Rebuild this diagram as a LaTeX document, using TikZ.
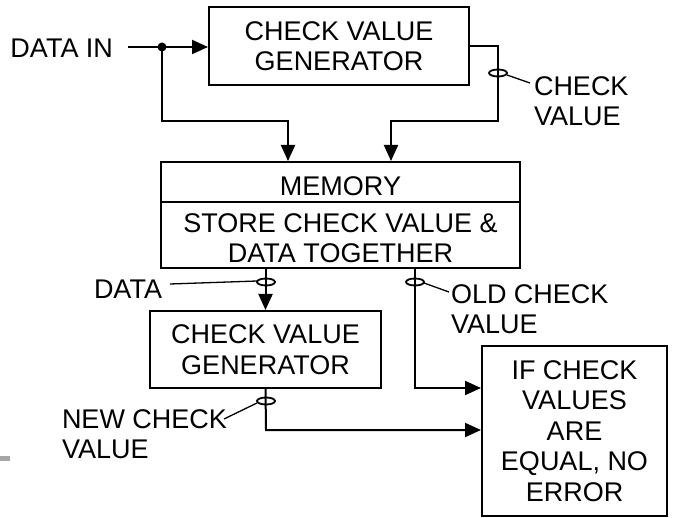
\documentclass[tikz,border=0pt]{standalone}
\usepackage{fontspec}
\setmainfont{Liberation Sans}
\usetikzlibrary{arrows.meta}
\begin{document}
\begin{tikzpicture}[x=1pt,y=-1pt,line width=2pt,
  txt/.style={inner sep=0pt,align=center,font=\fontsize{27}{30}\selectfont},
  box/.style={draw,inner sep=0pt,align=center,font=\fontsize{27}{30.5}\selectfont},
  arr/.style={-{Triangle[length=16pt,width=14pt]}},
  ring/.style={line width=1.8pt}]
\useasboundingbox (0,0) rectangle (677,518);
% boxes
\node[box,minimum width=260pt,minimum height=78pt] (cvg1) at (339,46) {CHECK VALUE\\GENERATOR};
\node[box,minimum width=359pt,minimum height=106pt] (mem) at (340.5,215) {};
\node[box,minimum width=231pt,minimum height=77pt] (cvg2) at (265.5,349.5) {CHECK VALUE\\GENERATOR};
\node[box,minimum width=185pt,minimum height=169pt] (cmp) at (574.5,431) {IF CHECK\\VALUES\\ARE\\EQUAL, NO\\ERROR};
\draw[line width=1.5pt] (mem.west |- 0,202) -- (mem.east |- 0,202);
\node[txt] (memt) at (340.5,186) {MEMORY};
\node[txt] (memd) at (340.5,238) {STORE CHECK VALUE \&\\DATA TOGETHER};
% labels
\node[txt,anchor=east] (datain) at (114,48) {DATA IN};
\node[txt,anchor=west,align=left] (cvlab) at (533,101) {CHECK\\VALUE};
\node[txt,anchor=east] (datalab) at (163,289) {DATA};
\node[txt,anchor=west,align=left] (oldlab) at (450,309) {OLD CHECK\\VALUE};
\node[txt,anchor=west,align=left] (newlab) at (61,434.5) {NEW CHECK\\VALUE};
% coordinates
\coordinate (in) at (128,47);
\coordinate (j) at (162,47);
\coordinate (b1) at (162,121);
\coordinate (b2) at (288,121);
\coordinate (r1) at (498,46);
\coordinate (r2) at (498,121);
\coordinate (r3) at (391,121);
\coordinate (o1) at (415,388);
\coordinate (n1) at (266,430);
% connectors
\draw (in) -- (j);
\draw[arr] (j) -- (cvg1.west |- j);
\fill (j) circle (4.5pt);
\draw[arr] (j) -- (b1) -- (b2) -- (b2 |- mem.north);
\draw[arr] (cvg1.east |- r1) -- (r1) -- (r2) -- (r3) -- (r3 |- mem.north);
\draw[arr] (cvg2.north |- mem.south) -- (cvg2.north);
\draw[arr] (o1 |- mem.south) -- (o1) -- (cmp.west |- o1);
\draw[arr] (cvg2.south) -- (n1) -- (cmp.west |- n1);
% rings and leaders
\draw[ring] (498,73) ellipse [x radius=9pt, y radius=3.5pt];
\draw[line width=1.3pt] (507,75) -- (530,83);
\draw[ring] (266,282) ellipse [x radius=9pt, y radius=3.5pt];
\draw[line width=1.3pt] (170,284) -- (257,281);
\draw[ring] (415,282) ellipse [x radius=9pt, y radius=3.5pt];
\draw[line width=1.3pt] (424,283) -- (449,292);
\draw[ring] (266,401) ellipse [x radius=9pt, y radius=3.5pt];
\draw[line width=1.3pt] (257,403) -- (224,419);
\fill[gray!70] (0,456) rectangle (10,461);
\end{tikzpicture}
\end{document}
